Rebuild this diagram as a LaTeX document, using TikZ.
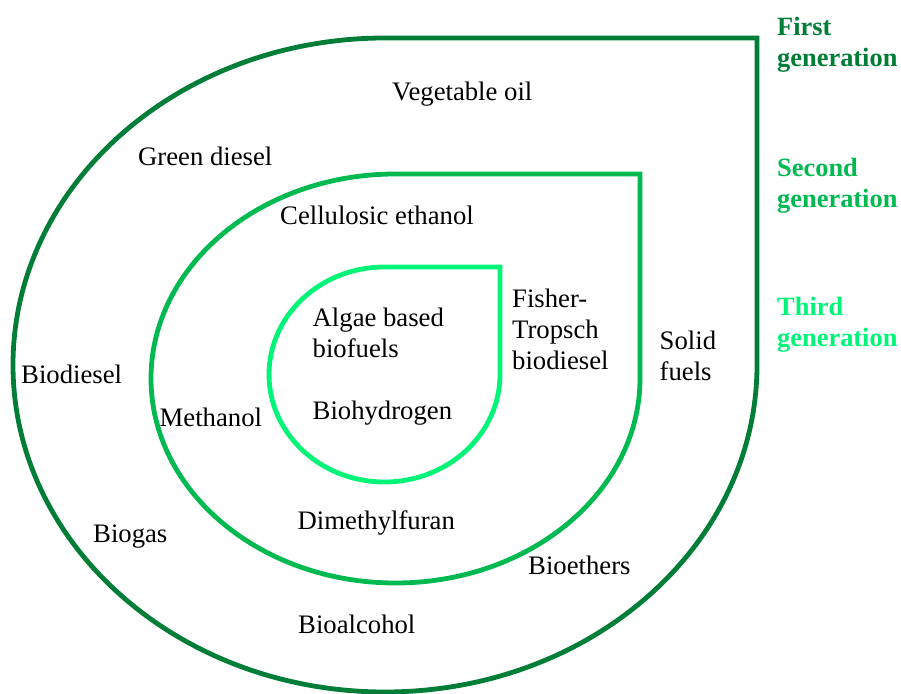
\documentclass[tikz,border=0pt]{standalone}
\usepackage{fontspec}
\setmainfont{Liberation Serif}
\definecolor{genOne}{RGB}{0,125,55}
\definecolor{genTwo}{RGB}{0,185,80}
\definecolor{genThree}{RGB}{0,245,120}
\begin{document}
\begin{tikzpicture}[x=1pt,y=1pt,
  ring/.style={line width=4.8pt, line join=miter},
  lbl/.style={anchor=base west, inner sep=0pt, align=left,
    font=\fontsize{26.7}{31}\selectfont},
  gen/.style={lbl, font=\fontsize{26.4}{31}\selectfont\bfseries}]
\useasboundingbox (0,0) rectangle (901,693);
% outer ring (first generation)
\draw[ring, genOne] (757,328) arc[start angle=0, end angle=-270, x radius=372, y radius=327]
  -- (757,655) -- cycle;
% middle ring (second generation)
\draw[ring, genTwo] (640,314.5) arc[start angle=0, end angle=-270, x radius=244.5, y radius=204.5]
  -- (640,519) -- cycle;
% inner ring (third generation)
\draw[ring, genThree] (500,318.5) arc[start angle=0, end angle=-270, x radius=115.5, y radius=107.5]
  -- (500,426) -- cycle;
% labels (base anchor = baseline of the last line)
\node[lbl] (veg) at (392,592) {Vegetable oil};
\node[lbl] (green) at (138,527) {Green diesel};
\node[lbl] (cell) at (280,468) {Cellulosic ethanol};
\node[lbl] (ft) at (512,323.5) {Fisher-\\Tropsch\\biodiesel};
\node[lbl] (algae) at (312.5,335) {Algae based\\biofuels};
\node[lbl] (solid) at (659.5,312) {Solid\\fuels};
\node[lbl] (biod) at (21,309) {Biodiesel};
\node[lbl] (meth) at (159.5,266) {Methanol};
\node[lbl] (bioh) at (312.5,273) {Biohydrogen};
\node[lbl] (dmf) at (297.5,163) {Dimethylfuran};
\node[lbl] (biogas) at (93,150) {Biogas};
\node[lbl] (bioeth) at (528,118) {Bioethers};
\node[lbl] (bioalc) at (298,60) {Bioalcohol};
\node[gen, text=genOne] (g1) at (777,626.3) {First\\generation};
\node[gen, text=genTwo] (g2) at (777,485) {Second\\generation};
\node[gen, text=genThree] (g3) at (777,346) {Third\\generation};
\end{tikzpicture}
\end{document}
